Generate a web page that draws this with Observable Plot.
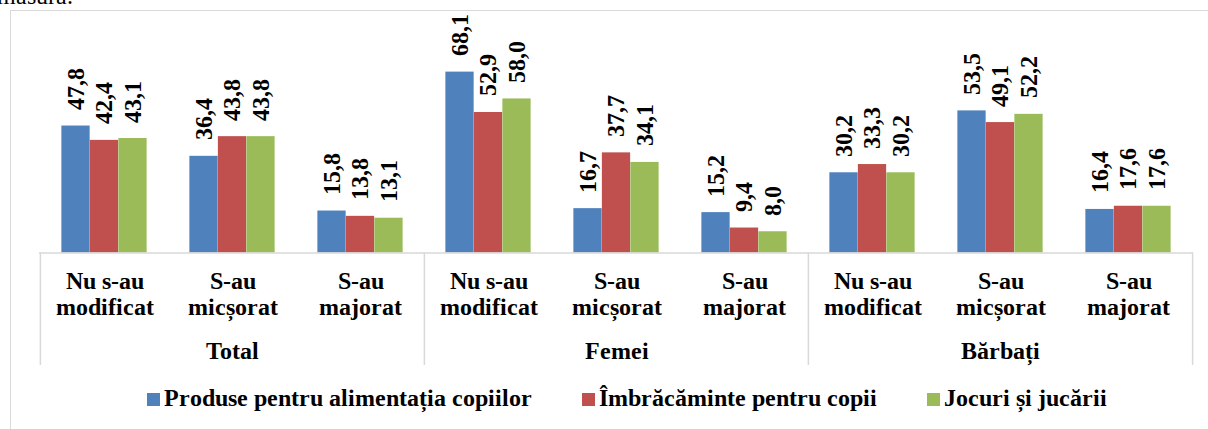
<!DOCTYPE html>
<html>
<head>
<meta charset="utf-8">
<script src="https://cdn.jsdelivr.net/npm/d3@7"></script>
<script src="https://cdn.jsdelivr.net/npm/@observablehq/plot@0.6"></script>
<style>
  @font-face { font-family: "RefSerif"; font-weight: 400; src: local("Liberation Serif"), local("LiberationSerif"), local("LiberationSerif-Regular"), local("Times New Roman"), local("Tinos"), local("DejaVu Serif"), local("DejaVuSerif"), local("Noto Serif"), local("NotoSerif-Regular"), local("FreeSerif"); }
  @font-face { font-family: "RefSerif"; font-weight: 700; src: local("Liberation Serif Bold"), local("LiberationSerif-Bold"), local("Times New Roman Bold"), local("Tinos Bold"), local("DejaVu Serif Bold"), local("DejaVuSerif-Bold"), local("Noto Serif Bold"), local("NotoSerif-Bold"), local("FreeSerif Bold"), local("FreeSerifBold"); }
  html, body { margin: 0; padding: 0; background: #fff; }
  #wrap { position: relative; width: 1208px; height: 429px; overflow: hidden; font-family: RefSerif, "Liberation Serif", Tinos, "Times New Roman", Times, "DejaVu Serif", "Noto Serif", FreeSerif, serif; }
  #top { position: absolute; left: -3px; top: -17px; font-size: 23.5px; line-height: 27px; color: #000; white-space: nowrap; }
  #frame { position: absolute; left: 10px; top: 10px; width: 1300px; height: 500px; border-left: 1.5px solid #d9d9d9; border-top: 1.5px solid #d9d9d9; }
  #chart { position: absolute; left: 0; top: 0; }
  #legend { position: absolute; left: 147px; top: 385px; font-size: 23.5px; line-height: 27px; font-weight: bold; white-space: nowrap; color: #000; }
  #legend .item { display: inline-block; }
  #legend .item + .item { margin-left: 50px; }
  #legend .sw { display: inline-block; width: 13px; height: 13px; margin-right: 4px; vertical-align: baseline; }
</style>
</head>
<body>
<div id="wrap">
  <div id="top">măsură.</div>
  <div id="frame"></div>
  <div id="chart"></div>
  <div id="legend"></div>
</div>
<script>
// ---- data ----
const groups = ["Total", "Femei", "Bărbați"];
const subcats = ["Nu s-au\nmodificat", "S-au\nmicșorat", "S-au\nmajorat"];
const seriesNames = ["Produse pentru alimentația copiilor", "Îmbrăcăminte pentru copii", "Jocuri și jucării"];
const seriesColors = ["#4F81BD", "#C0504D", "#9BBB59"];
const foodValues    = [47.8, 36.4, 15.8, 68.1, 16.7, 15.2, 30.2, 53.5, 16.4];
const clothesValues = [42.4, 43.8, 13.8, 52.9, 37.7,  9.4, 33.3, 49.1, 17.6];
const toysValues    = [43.1, 43.8, 13.1, 58.0, 34.1,  8.0, 30.2, 52.2, 17.6];
const seriesValues = [foodValues, clothesValues, toysValues];

// ---- build table ----
const keys = [];
groups.forEach(g => subcats.forEach(s => keys.push(g + "|" + s)));
const rows = [];
seriesValues.forEach((vals, si) => {
  vals.forEach((v, i) => rows.push({key: keys[i], series: seriesNames[si], si, value: v}));
});
const cats = keys.map((k, i) => ({key: k, label: subcats[i % 3], group: groups[Math.floor(i / 3)], idx: i}));

const fmt = v => v.toFixed(1).replace(".", ",");

const W = 1208, H = 375, mL = 39, mR = 15, mT = 40, mB = 122.5;
const bw = (W - mL - mR) / keys.length;
const barW = bw * 2 / 9;
const inset = (bw - barW) / 2;
const font = "RefSerif, Liberation Serif, Tinos, Times New Roman, Times, DejaVu Serif, Noto Serif, FreeSerif, serif";

const marks = [];
seriesNames.forEach((name, si) => {
  const data = rows.filter(r => r.si === si);
  const off = (si - 1) * barW;
  marks.push(Plot.barY(data, {x: "key", y: "value", fill: seriesColors[si], insetLeft: inset + off, insetRight: inset - off}));
  marks.push(Plot.text(data, {
    x: "key", y: "value", text: d => fmt(d.value), dx: off, dy: -16,
    rotate: -90, textAnchor: "start", lineAnchor: "middle",
    fontFamily: font, fontSize: 23.5, fontWeight: "bold", fill: "#000"
  }));
});
// axis line
marks.push(Plot.ruleY([0], {stroke: "#d9d9d9", strokeWidth: 1.5}));
// group separators
const sepData = cats.filter(c => c.idx % 3 === 0);
marks.push(Plot.ruleX(sepData, {x: "key", dx: -bw / 2, stroke: "#d9d9d9", strokeWidth: 1.5, insetTop: H - mT - mB, insetBottom: -112.5}));
marks.push(Plot.ruleX(cats.filter(c => c.idx === keys.length - 1), {x: "key", dx: bw / 2, stroke: "#d9d9d9", strokeWidth: 1.5, insetTop: H - mT - mB, insetBottom: -112.5}));
// category labels
marks.push(Plot.text(cats, {
  x: "key", text: "label", frameAnchor: "bottom", dy: 61.5, lineAnchor: "bottom", lineHeight: 1.1,
  fontFamily: font, fontSize: 23.5, fontWeight: "bold", fill: "#000"
}));
// group labels
marks.push(Plot.text(cats.filter(c => c.idx % 3 === 1), {
  x: "key", text: "group", frameAnchor: "bottom", dy: 105.8, lineAnchor: "bottom",
  fontFamily: font, fontSize: 23.5, fontWeight: "bold", fill: "#000"
}));

const chart = Plot.plot({
  width: W, height: H,
  marginLeft: mL, marginRight: mR, marginTop: mT, marginBottom: mB,
  x: {type: "band", domain: keys, padding: 0, axis: null},
  y: {domain: [0, 80], axis: null},
  style: {background: "transparent", overflow: "visible", fontFamily: font},
  marks
});
document.getElementById("chart").appendChild(chart);

// legend
const legend = document.getElementById("legend");
seriesNames.forEach((name, i) => {
  const item = document.createElement("span");
  item.className = "item";
  const sw = document.createElement("span");
  sw.className = "sw";
  sw.style.background = seriesColors[i];
  item.appendChild(sw);
  item.appendChild(document.createTextNode(name));
  legend.appendChild(item);
});
</script>
</body>
</html>
